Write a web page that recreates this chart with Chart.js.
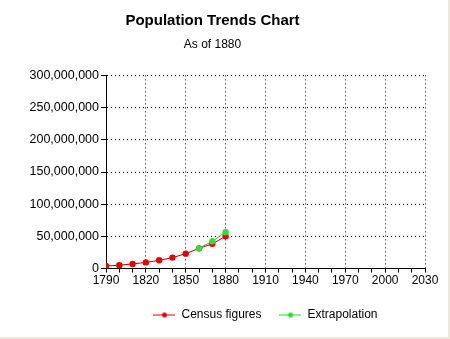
<!DOCTYPE html>
<html>
<head>
<meta charset="utf-8">
<script src="https://cdn.jsdelivr.net/npm/chart.js@4.4.1/dist/chart.umd.min.js"></script>
<style>
  html, body { margin: 0; padding: 0; background: #fff; }
  #wrap { width: 448px; height: 337px; border-right: 2px solid #ece9d8; border-bottom: 2px solid #ece9d8; }
</style>
</head>
<body>
<div id="wrap"><canvas id="myChart" width="448" height="337"></canvas></div>
<script>
// census years and counts
const censusYears = [1790, 1800, 1810, 1820, 1830, 1840, 1850, 1860, 1870, 1880]
const censusValues = [3929214, 5308483, 7239881, 9638453, 12866020, 17069453, 23191876, 31443321, 38558371, 50189209]

const extraYears = [1860, 1870, 1880]
const extraValues = [31443321, 42500000, 56500000]

const xMin = 1790
const xMax = 2030
const yMax = 300000000

const FONT = "'Liberation Sans', Arial, sans-serif"

// little line-with-dot marker for the legend
const legendMark = color => {
  const c = document.createElement('canvas')
  c.width = 22
  c.height = 7
  const g = c.getContext('2d')
  g.strokeStyle = color
  g.lineWidth = 1
  g.beginPath()
  g.moveTo(0, 3.5)
  g.lineTo(22, 3.5)
  g.stroke()
  g.fillStyle = color
  g.beginPath()
  g.arc(11, 3.5, 2.5, 0, Math.PI * 2)
  g.fill()
  return c
}

const toPoints = (xs, ys) => xs.map((x, i) => ({ x: x, y: ys[i] }))

const ctx = document.getElementById('myChart').getContext('2d')

new Chart(ctx, {
  type: 'line',
  data: {
    datasets: [
      {
        label: 'Census figures',
        data: toPoints(censusYears, censusValues),
        borderColor: '#c00000',
        backgroundColor: '#ee0000',
        pointBackgroundColor: '#ee0000',
        pointBorderWidth: 0,
        pointRadius: 3.2,
        borderWidth: 1,
        order: 2
      },
      {
        label: 'Extrapolation',
        data: toPoints(extraYears, extraValues),
        borderColor: '#22bb22',
        backgroundColor: '#33dd33',
        pointBackgroundColor: '#33dd33',
        pointBorderWidth: 0,
        pointRadius: 3.2,
        borderWidth: 1,
        order: 1
      }
    ]
  },
  options: {
    responsive: false,
    animation: false,
    layout: { padding: { left: 0, right: 23, top: 8, bottom: 6 } },
    plugins: {
      title: {
        display: true,
        text: 'Population Trends Chart',
        color: '#000',
        font: { family: FONT, size: 15, weight: 'bold' },
        padding: { top: 4, bottom: 7 }
      },
      subtitle: {
        display: true,
        text: 'As of 1880',
        color: '#000',
        font: { family: FONT, size: 12 },
        padding: { bottom: 24 }
      },
      legend: {
        position: 'bottom',
        fullSize: false,
        labels: {
          color: '#000',
          font: { family: FONT, size: 12 },
          usePointStyle: true,
          pointStyleWidth: 22,
          padding: 18,
          generateLabels: chart => chart.data.datasets.map((ds, i) => ({
            text: ds.label,
            datasetIndex: i,
            fontColor: '#000',
            pointStyle: legendMark(i === 0 ? '#dd0000' : '#22dd22'),
            hidden: false,
            lineWidth: 0
          }))
        }
      },
      tooltip: { enabled: false }
    },
    scales: {
      x: {
        type: 'linear',
        min: xMin,
        max: xMax,
        afterFit: s => { s.height += 2 },
        ticks: {
          stepSize: 10,
          autoSkip: false,
          maxRotation: 0,
          color: '#000',
          padding: 1,
          font: { family: FONT, size: 12 },
          callback: v => ((v - xMin) % 30 === 0 ? String(v) : '')
        },
        grid: {
          color: c => (c.tick && (c.tick.value - xMin) % 30 === 0 ? '#000' : 'rgba(0,0,0,0)'),
          tickColor: '#000',
          tickLength: 4,
          lineWidth: 1
        },
        border: { display: true, color: '#000', width: 1, dash: [1, 3] }
      },
      y: {
        min: 0,
        max: yMax,
        afterFit: s => { s.width = 106 },
        ticks: {
          stepSize: 50000000,
          color: '#000',
          padding: 2,
          font: { family: FONT, size: 12.5 },
          callback: v => v.toLocaleString('en-US')
        },
        grid: {
          color: '#000',
          tickColor: '#000',
          tickLength: 5,
          lineWidth: 1
        },
        border: { display: true, color: '#000', width: 1, dash: [1, 3] }
      }
    }
  }
})
</script>
</body>
</html>
